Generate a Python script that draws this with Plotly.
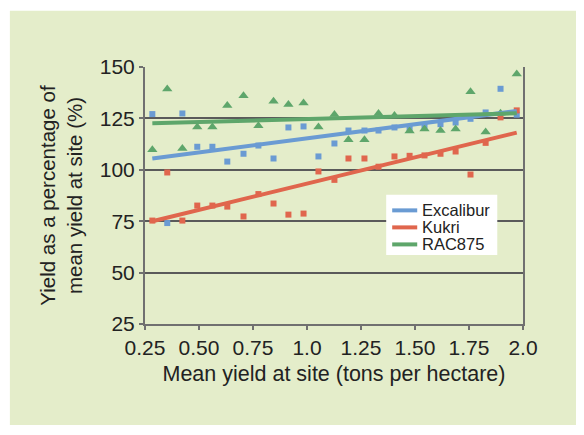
import numpy as np
import plotly.graph_objects as go

# Mean yield at site (tons per hectare) for each site
site_yield = [0.284, 0.353, 0.423, 0.492, 0.562, 0.631, 0.706, 0.775, 0.845, 0.914,
              0.984, 1.053, 1.127, 1.192, 1.266, 1.331, 1.405, 1.475, 1.544, 1.618,
              1.688, 1.757, 1.827, 1.896, 1.971]

# Yield as a percentage of mean yield at site (%)
excalibur = [127.1, 74.1, 127.4, 111.2, 111.2, 104.0, 107.8, 111.8, 105.5, 120.6,
             121.1, 106.5, 112.8, 119.1, 119.1, 119.1, 120.6, 120.3, 121.4, 122.2,
             123.0, 124.8, 127.9, 139.4, 126.8]
kukri = [75.3, 98.7, 75.3, 82.6, 82.6, 82.1, 77.3, 88.2, 83.6, 78.2,
         78.7, 99.2, 95.1, 105.5, 105.5, 101.5, 106.5, 106.8, 107.0, 107.8,
         108.9, 97.7, 113.1, 125.5, 128.9]
rac875 = [109.7, 139.3, 110.4, 120.8, 120.8, 131.3, 136.0, 121.4, 133.4, 131.8,
          132.5, 120.8, 126.9, 114.6, 114.6, 127.4, 126.4, 118.9, 119.8, 119.1,
          119.8, 138.0, 118.4, 127.5, 146.6]

series_names = ["Excalibur", "Kukri", "RAC875"]
series_values = [excalibur, kukri, rac875]
series_colors = ["#6A9BD3", "#E0664D", "#5EA66B"]
series_symbols = ["square", "square", "triangle-up"]
series_sizes = [6, 6, 9]

x_tick_vals = [0.25, 0.5, 0.75, 1.0, 1.25, 1.5, 1.75, 2.0]
x_tick_text = ["0.25", "0.50", "0.75", "1.0", "1.25", "1.50", "1.75", "2.0"]
y_tick_vals = [25, 50, 75, 100, 125, 150]

FONT = "Liberation Sans, Arial, Helvetica, sans-serif"
BG = "#E4EDCA"
OFF = 8  # page body margin

fig = go.Figure()
x = np.array(site_yield)

# scatter markers
for name, vals, col, sym, sz in zip(series_names, series_values, series_colors,
                                    series_symbols, series_sizes):
    fig.add_trace(go.Scatter(x=site_yield, y=vals, mode="markers", name=name,
                             marker=dict(color=col, symbol=sym, size=sz, line=dict(width=0)),
                             showlegend=False, hoverinfo="x+y"))

# linear trend lines
for name, vals, col in zip(series_names, series_values, series_colors):
    m, b = np.polyfit(x, np.array(vals), 1)
    xs = [x.min(), x.max()]
    ys = [m * xs[0] + b, m * xs[1] + b]
    fig.add_trace(go.Scatter(x=xs, y=ys, mode="lines", name=name,
                             line=dict(color=col, width=4), showlegend=False))

W, H = 584 - OFF, 435 - OFF
# plot area in target image pixels: x 145..522.7, y 67.3..324
L, T = 145 - OFF, 67.3 - OFF
pw, ph = 377.7, 256.7
R, B = W - L - pw, H - T - ph

def px_x(p):
    return (p - OFF - L) / pw

def px_y(p):
    return (T + ph - (p - OFF)) / ph

shapes = [dict(type="rect", xref="paper", yref="paper",
               x0=px_x(10), x1=px_x(600), y0=px_y(425), y1=px_y(11),
               fillcolor=BG, line=dict(width=0), layer="below")]

# legend box
shapes.append(dict(type="rect", xref="paper", yref="paper",
                   x0=px_x(386), x1=px_x(497), y0=px_y(255), y1=px_y(195),
                   fillcolor="white", line=dict(width=0), layer="above"))
annotations = []
row_y = [210.5, 227.5, 244.5]
for name, col, ry in zip(series_names, series_colors, row_y):
    shapes.append(dict(type="line", xref="paper", yref="paper",
                       x0=px_x(392), x1=px_x(417), y0=px_y(ry), y1=px_y(ry),
                       line=dict(color=col, width=4), layer="above"))
    annotations.append(dict(xref="paper", yref="paper", x=px_x(420), y=px_y(ry),
                            xanchor="left", yanchor="middle", text=name,
                            showarrow=False, font=dict(size=16.5, color="#222222")))

fig.update_layout(
    width=W, height=H,
    margin=dict(l=L, r=R, t=T, b=B, pad=0, autoexpand=False),
    paper_bgcolor="white", plot_bgcolor="rgba(0,0,0,0)",
    font=dict(family=FONT, size=21, color="#222222"),
    showlegend=False,
    shapes=shapes, annotations=annotations,
)

fig.update_xaxes(range=[0.25, 2.0], tickvals=x_tick_vals, ticktext=x_tick_text,
                 showgrid=False, zeroline=False, showline=True, linecolor="#707070",
                 linewidth=2, ticks="outside", ticklen=4, tickcolor="#707070",
                 tickwidth=1.5, tickfont=dict(size=21), automargin=False,
                 title=dict(text="Mean yield at site (tons per hectare)",
                            font=dict(size=21.5), standoff=8))
fig.update_yaxes(range=[25, 150], tickvals=y_tick_vals,
                 showgrid=True, gridcolor="#5a5a5a", gridwidth=1.5,
                 zeroline=False, showline=True, mirror=True, linecolor="#707070",
                 linewidth=2, ticks="outside", ticklen=4, tickcolor="#707070",
                 tickwidth=1.5, tickfont=dict(size=21), automargin=False,
                 title=dict(text="Yield as a percentage of<br>mean yield at site (%)",
                            font=dict(size=20.5), standoff=12))

fig.write_html("out.html")
